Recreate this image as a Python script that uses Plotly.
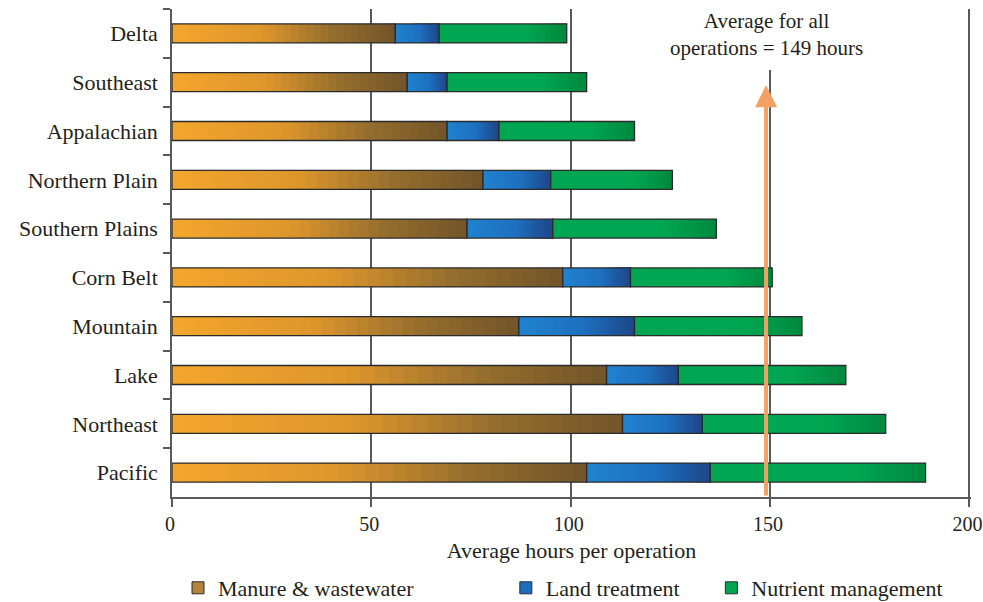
import plotly.graph_objects as go

# ---------------- data ----------------
regions = ["Delta", "Southeast", "Appalachian", "Northern Plain", "Southern Plains",
           "Corn Belt", "Mountain", "Lake", "Northeast", "Pacific"]
manure = [56, 59, 69, 78, 74, 98, 87, 109, 113, 104]
land = [11, 10, 13, 17, 21.5, 17, 29, 18, 20, 31]
nutrient = [32, 35, 34, 30.5, 41, 35.5, 42, 42, 46, 54]
series_names = ["Manure & wastewater", "Land treatment", "Nutrient management"]
x_ticks = [0, 50, 100, 150, 200]
average_all = 149
avg_label = "Average for all<br>operations = 149 hours"
x_title = "Average hours per operation"

# ---------------- style ----------------
FONT = "Liberation Serif, DejaVu Serif, serif"
TXT = "#231f20"
GRID = "#5a5a5a"
OUTLINE = "#2b2b2b"
N_SEG = 30
gradients = [
    [(0.0, (243, 166, 44)), (0.40, (222, 150, 44)), (0.72, (150, 110, 46)), (1.0, (116, 86, 42))],
    [(0.0, (32, 130, 206)), (0.55, (30, 112, 192)), (1.0, (30, 72, 138))],
    [(0.0, (0, 166, 81)), (0.68, (0, 166, 81)), (1.0, (0, 138, 64))],
]
legend_colors = ["#B4823A", "#1F6EC0", "#00A651"]


def interp(stops, t):
    for (t0, c0), (t1, c1) in zip(stops[:-1], stops[1:]):
        if t0 <= t <= t1:
            f = 0 if t1 == t0 else (t - t0) / (t1 - t0)
            c = [round(a + (b - a) * f) for a, b in zip(c0, c1)]
            return "rgb(%d,%d,%d)" % tuple(c)
    return "rgb(%d,%d,%d)" % stops[-1][1]


fig = go.Figure()
series = [manure, land, nutrient]
bases = [[0] * len(regions)]
for s in series[:-1]:
    bases.append([b + v for b, v in zip(bases[-1], s)])

legend_ids = ["legend", "legend2", "legend3"]
for si, (vals, base) in enumerate(zip(series, bases)):
    # gradient fill: each slice runs from its start to the segment end, later slices overlay
    for k in range(N_SEG):
        t = k / (N_SEG - 1)
        fig.add_trace(go.Bar(
            y=regions, x=[v * (N_SEG - k) / N_SEG for v in vals],
            base=[b + v * k / N_SEG for b, v in zip(base, vals)],
            orientation="h", marker=dict(color=interp(gradients[si], t), line=dict(width=0)),
            showlegend=False, hoverinfo="skip"))
    # outline of the whole segment
    fig.add_trace(go.Bar(
        y=regions, x=vals, base=base, orientation="h", name=series_names[si],
        marker=dict(color="rgba(0,0,0,0)", line=dict(color=OUTLINE, width=1.3)),
        showlegend=False))
    # legend entry
    fig.add_trace(go.Bar(
        y=[None], x=[None], orientation="h", name=series_names[si],
        marker=dict(color=legend_colors[si], line=dict(color=OUTLINE, width=1)),
        showlegend=True, legend=legend_ids[si]))

# white patch hiding the top of the 150 gridline behind the label
fig.add_shape(type="rect", xref="x", yref="paper", x0=average_all - 3, x1=average_all + 4,
              y0=(497 - 70) / 488, y1=1.0, fillcolor="white", line=dict(width=0), layer="above")
# average label
fig.add_annotation(x=average_all, xref="x", y=1 - (34 - 9) / 488, yref="paper",
                   yanchor="middle", text=avg_label, showarrow=False,
                   font=dict(family=FONT, size=21, color=TXT), align="center")
# arrow
fig.add_annotation(x=average_all, y=1.06, xref="x", yref="y",
                   ax=average_all, ay=9.5, axref="x", ayref="y",
                   text="", showarrow=True, arrowhead=2, arrowsize=1.1,
                   arrowwidth=4, arrowcolor="#F4A062", standoff=0, startstandoff=0)

leg_common = dict(orientation="h", yanchor="middle", y=-0.1865, xanchor="left",
                  font=dict(family=FONT, size=22, color=TXT), bgcolor="rgba(0,0,0,0)",
                  itemwidth=30, tracegroupgap=0)
fig.update_layout(
    barmode="overlay", bargap=0.61,
    width=983, height=602,
    margin=dict(l=172, r=12, t=9, b=105, autoexpand=False),
    plot_bgcolor="white", paper_bgcolor="white",
    font=dict(family=FONT, size=22, color=TXT),
    legend=dict(x=(178 - 172) / 797, **leg_common),
    legend2=dict(x=(505 - 172) / 797, **leg_common),
    legend3=dict(x=(710 - 172) / 797, **leg_common),
    xaxis=dict(range=[0, 200.4], tickvals=x_ticks, showgrid=True, gridcolor=GRID, gridwidth=1.5,
               zeroline=False, showline=True, linecolor=GRID, linewidth=1.5,
               ticks="outside", ticklen=8, tickcolor=GRID, tickwidth=1.5,
               ticklabeloverflow="allow", ticklabelshift=-2,
               tickfont=dict(family=FONT, size=20, color=TXT),
               title=dict(text=x_title, standoff=9, font=dict(family=FONT, size=22, color=TXT))),
    yaxis=dict(type="category", categoryorder="array", categoryarray=regions,
               range=[len(regions) - 0.5, -0.5], tickson="boundaries",
               ticks="outside", ticklen=7, tickcolor=GRID, tickwidth=1.5,
               ticklabelstandoff=8,
               showline=True, linecolor=GRID, linewidth=1.5, showgrid=False,
               tickfont=dict(family=FONT, size=22, color=TXT)),
)

fig.write_html("out.html", config={"displayModeBar": False},
               post_script="document.body.style.margin='0';document.body.style.overflow='hidden';")
